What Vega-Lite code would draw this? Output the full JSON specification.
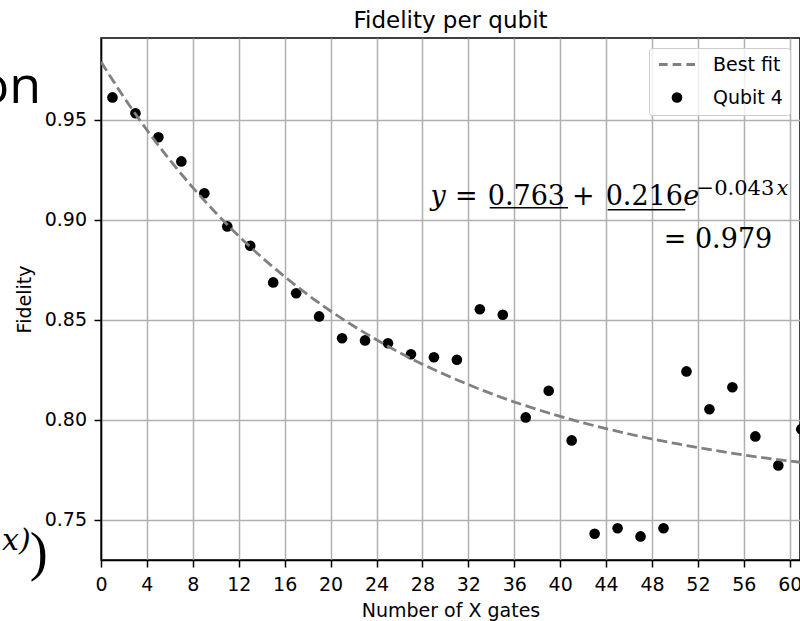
{
  "$schema": "https://vega.github.io/schema/vega-lite/v6.json",
  "width": 699,
  "height": 522,
  "autosize": {"type": "none"},
  "padding": {"left": 101, "top": 38, "right": 0, "bottom": 61},
  "background": "white",
  "title": {"text": "Fidelity per qubit", "font": "DejaVu Sans", "fontSize": 23, "fontWeight": "normal", "color": "black", "anchor": "middle", "frame": "group", "offset": 5},
  "config": {
    "view": {"stroke": "black", "strokeWidth": 1.5},
    "axis": {"labelFont": "DejaVu Sans", "labelFontSize": 19, "labelColor": "black", "titleFont": "DejaVu Sans", "titleFontSize": 19, "titleFontWeight": "normal", "titleColor": "black", "tickColor": "black", "tickWidth": 1.5, "tickSize": 7, "domainColor": "black", "domainWidth": 1.5, "gridColor": "#b0b0b0", "gridWidth": 1.5, "labelFlush": false, "labelOverlap": false, "labelBound": false},
    "legend": {"orient": "top-right", "offset": 10, "padding": 7, "fillColor": "rgba(255,255,255,0.8)", "strokeColor": "#cccccc", "cornerRadius": 3, "labelFont": "DejaVu Sans", "labelFontSize": 19, "labelColor": "black", "symbolOffset": 11.5, "labelOffset": 26.5, "rowPadding": 13, "symbolSize": 113, "symbolStrokeWidth": 0, "labelLimit": 300}
  },
  "datasets": {
    "pts": [
      {"x": 1, "y": 0.9612, "series": "Qubit 4"}, {"x": 3, "y": 0.9533, "series": "Qubit 4"}, {"x": 5, "y": 0.9413, "series": "Qubit 4"}, {"x": 7, "y": 0.9292, "series": "Qubit 4"}, {"x": 9, "y": 0.9133, "series": "Qubit 4"}, {"x": 11, "y": 0.8967, "series": "Qubit 4"}, {"x": 13, "y": 0.887, "series": "Qubit 4"}, {"x": 15, "y": 0.8687, "series": "Qubit 4"}, {"x": 17, "y": 0.8633, "series": "Qubit 4"}, {"x": 19, "y": 0.8517, "series": "Qubit 4"}, {"x": 21, "y": 0.8408, "series": "Qubit 4"}, {"x": 23, "y": 0.8397, "series": "Qubit 4"}, {"x": 25, "y": 0.8383, "series": "Qubit 4"}, {"x": 27, "y": 0.8328, "series": "Qubit 4"}, {"x": 29, "y": 0.8313, "series": "Qubit 4"}, {"x": 31, "y": 0.83, "series": "Qubit 4"}, {"x": 33, "y": 0.8553, "series": "Qubit 4"}, {"x": 35, "y": 0.8525, "series": "Qubit 4"}, {"x": 37, "y": 0.8012, "series": "Qubit 4"}, {"x": 39, "y": 0.8145, "series": "Qubit 4"}, {"x": 41, "y": 0.7897, "series": "Qubit 4"}, {"x": 43, "y": 0.743, "series": "Qubit 4"}, {"x": 45, "y": 0.7458, "series": "Qubit 4"}, {"x": 47, "y": 0.7417, "series": "Qubit 4"}, {"x": 49, "y": 0.7458, "series": "Qubit 4"}, {"x": 51, "y": 0.8242, "series": "Qubit 4"}, {"x": 53, "y": 0.8053, "series": "Qubit 4"}, {"x": 55, "y": 0.8163, "series": "Qubit 4"}, {"x": 57, "y": 0.7917, "series": "Qubit 4"}, {"x": 59, "y": 0.7772, "series": "Qubit 4"}, {"x": 61, "y": 0.7953, "series": "Qubit 4"}
    ],
    "fit": [
      {"x": 0, "y": 0.979}, {"x": 2, "y": 0.9612}, {"x": 4, "y": 0.9449}, {"x": 6, "y": 0.9299}, {"x": 8, "y": 0.9161}, {"x": 10, "y": 0.9035}, {"x": 12, "y": 0.8919}, {"x": 14, "y": 0.8813}, {"x": 16, "y": 0.8716}, {"x": 18, "y": 0.8626}, {"x": 20, "y": 0.8544}, {"x": 22, "y": 0.8469}, {"x": 24, "y": 0.84}, {"x": 26, "y": 0.8336}, {"x": 28, "y": 0.8278}, {"x": 30, "y": 0.8225}, {"x": 32, "y": 0.8176}, {"x": 34, "y": 0.8131}, {"x": 36, "y": 0.8089}, {"x": 38, "y": 0.8052}, {"x": 40, "y": 0.8017}, {"x": 42, "y": 0.7985}, {"x": 44, "y": 0.7956}, {"x": 46, "y": 0.7929}, {"x": 48, "y": 0.7904}, {"x": 50, "y": 0.7882}, {"x": 52, "y": 0.7861}, {"x": 54, "y": 0.7842}, {"x": 56, "y": 0.7824}, {"x": 58, "y": 0.7808}, {"x": 60, "y": 0.7794}, {"x": 62, "y": 0.778}
    ],
    "eqRegular": [
      {"x": 30.84, "y": 0.90725, "t": "="}, {"x": 33.69, "y": 0.90725, "t": "0.763"}, {"x": 41.03, "y": 0.90725, "t": "+"}, {"x": 43.96, "y": 0.90725, "t": "0.216"}, {"x": 49.02, "y": 0.886, "t": "= 0.979"}
    ],
    "eqItalic": [
      {"x": 28.7, "y": 0.90725, "t": "y"}, {"x": 50.71, "y": 0.90725, "t": "e"}
    ],
    "supRegular": [
      {"x": 51.88, "y": 0.9125, "t": "−0.043"}
    ],
    "supItalic": [
      {"x": 58.85, "y": 0.9125, "t": "x"}
    ],
    "underlines": [
      {"x": 33.86, "x2": 40.68, "y": 0.906}, {"x": 44.14, "x2": 50.9, "y": 0.905}
    ],
    "fragOn": [{"x": -5.22, "y": 0.9585, "t": "on"}],
    "fragX": [{"x": -6.12, "y": 0.735, "t": "x)"}],
    "fragParen": [{"x": -6.21, "y": 0.7248, "t": ")"}]
  },
  "layer": [
    {
      "data": {"name": "pts"},
      "mark": {"type": "point", "filled": true, "size": 113, "opacity": 1, "clip": true},
      "encoding": {
        "x": {"field": "x", "type": "quantitative", "scale": {"domain": [0, 60.89], "nice": false, "zero": false},
              "axis": {"values": [0,1,2,3,4,5,6,7,8,9,10,11,12,13,14,15,16,17,18,19,20,21,22,23,24,25,26,27,28,29,30,31,32,33,34,35,36,37,38,39,40,41,42,43,44,45,46,47,48,49,50,51,52,53,54,55,56,57,58,59,60],
                       "labelExpr": "datum.value % 4 === 0 ? datum.label : ''",
                       "tickSize": {"condition": {"test": "datum.value % 4 === 0", "value": 7}, "value": 3.8},
                       "tickWidth": {"condition": {"test": "datum.value % 4 === 0", "value": 1.5}, "value": 1.1},
                       "gridOpacity": {"condition": {"test": "datum.value % 4 === 0", "value": 1}, "value": 0},
                       "title": "Number of X gates", "grid": true, "domain": true, "labelPadding": 8, "titlePadding": 7.7}},
        "y": {"field": "y", "type": "quantitative", "scale": {"domain": [0.7299, 0.9909], "nice": false, "zero": false},
              "axis": {"values": [0.75, 0.8, 0.85, 0.9, 0.95], "format": ".2f", "title": "Fidelity", "grid": true, "domain": true, "labelPadding": 7.5, "titlePadding": 9.5}},
        "color": {"field": "series", "type": "nominal", "scale": {"domain": ["Best fit", "Qubit 4"], "range": ["#808080", "#000000"]}, "legend": {"title": null}},
        "shape": {"field": "series", "type": "nominal", "scale": {"domain": ["Best fit", "Qubit 4"], "range": ["M-3.4,-0.26H-1.76V0.26H-3.4Z M-0.82,-0.26H0.82V0.26H-0.82Z M1.76,-0.26H3.4V0.26H1.76Z", "circle"]}, "legend": {"title": null}}
      }
    },
    {
      "data": {"name": "fit"},
      "mark": {"type": "line", "color": "#808080", "strokeWidth": 2.8, "strokeDash": [10.5, 4.6], "interpolate": "monotone", "clip": true},
      "encoding": {
        "x": {"field": "x", "type": "quantitative"},
        "y": {"field": "y", "type": "quantitative"}
      }
    },
    {
      "data": {"name": "underlines"},
      "mark": {"type": "rule", "color": "black", "strokeWidth": 1.5},
      "encoding": {
        "x": {"field": "x", "type": "quantitative"},
        "x2": {"field": "x2"},
        "y": {"field": "y", "type": "quantitative"}
      }
    },
    {
      "data": {"name": "eqRegular"},
      "mark": {"type": "text", "font": "DejaVu Serif", "fontSize": 27, "align": "left", "baseline": "alphabetic", "color": "black"},
      "encoding": {
        "x": {"field": "x", "type": "quantitative"},
        "y": {"field": "y", "type": "quantitative"},
        "text": {"field": "t"}
      }
    },
    {
      "data": {"name": "eqItalic"},
      "mark": {"type": "text", "font": "DejaVu Serif", "fontStyle": "italic", "fontSize": 27, "align": "left", "baseline": "alphabetic", "color": "black"},
      "encoding": {
        "x": {"field": "x", "type": "quantitative"},
        "y": {"field": "y", "type": "quantitative"},
        "text": {"field": "t"}
      }
    },
    {
      "data": {"name": "supRegular"},
      "mark": {"type": "text", "font": "DejaVu Serif", "fontSize": 21, "align": "left", "baseline": "alphabetic", "color": "black"},
      "encoding": {
        "x": {"field": "x", "type": "quantitative"},
        "y": {"field": "y", "type": "quantitative"},
        "text": {"field": "t"}
      }
    },
    {
      "data": {"name": "supItalic"},
      "mark": {"type": "text", "font": "DejaVu Serif", "fontStyle": "italic", "fontSize": 21, "align": "left", "baseline": "alphabetic", "color": "black"},
      "encoding": {
        "x": {"field": "x", "type": "quantitative"},
        "y": {"field": "y", "type": "quantitative"},
        "text": {"field": "t"}
      }
    },
    {
      "data": {"name": "fragOn"},
      "mark": {"type": "text", "font": "Open Sans", "fontSize": 52, "align": "right", "baseline": "alphabetic", "color": "black"},
      "encoding": {
        "x": {"field": "x", "type": "quantitative"},
        "y": {"field": "y", "type": "quantitative"},
        "text": {"field": "t"}
      }
    },
    {
      "data": {"name": "fragX"},
      "mark": {"type": "text", "font": "DejaVu Serif", "fontStyle": "italic", "fontSize": 30, "align": "right", "baseline": "alphabetic", "color": "black"},
      "encoding": {
        "x": {"field": "x", "type": "quantitative"},
        "y": {"field": "y", "type": "quantitative"},
        "text": {"field": "t"}
      }
    },
    {
      "data": {"name": "fragParen"},
      "mark": {"type": "text", "font": "Liberation Serif", "fontSize": 54, "align": "left", "baseline": "alphabetic", "color": "black"},
      "encoding": {
        "x": {"field": "x", "type": "quantitative"},
        "y": {"field": "y", "type": "quantitative"},
        "text": {"field": "t"}
      }
    }
  ]
}
